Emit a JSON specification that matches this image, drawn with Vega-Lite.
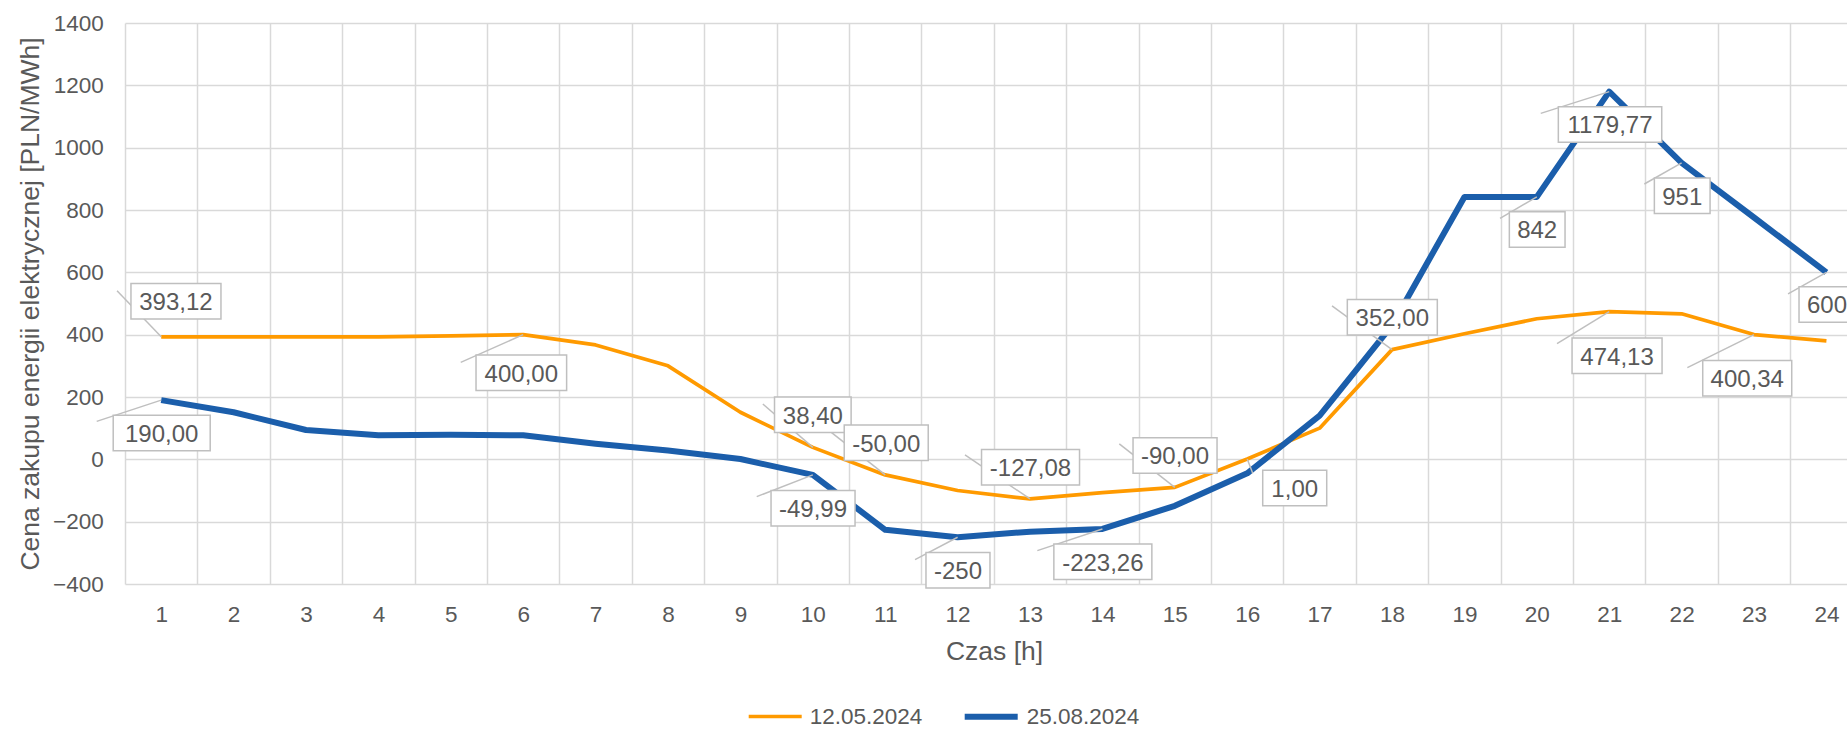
{
  "$schema": "https://vega.github.io/schema/vega-lite/v6.json",
  "width": 1722,
  "height": 561,
  "autosize": {"type": "none"},
  "padding": {"left": 125, "top": 23, "right": 0, "bottom": 145},
  "background": "white",
  "config": {"view": {"stroke": null}, "font": "Liberation Sans"},
  "datasets": {
    "prices": [
      {"hour": 1, "series": "12.05.2024", "price": 393.12},
      {"hour": 2, "series": "12.05.2024", "price": 393},
      {"hour": 3, "series": "12.05.2024", "price": 393},
      {"hour": 4, "series": "12.05.2024", "price": 393},
      {"hour": 5, "series": "12.05.2024", "price": 396},
      {"hour": 6, "series": "12.05.2024", "price": 400},
      {"hour": 7, "series": "12.05.2024", "price": 367},
      {"hour": 8, "series": "12.05.2024", "price": 300},
      {"hour": 9, "series": "12.05.2024", "price": 151},
      {"hour": 10, "series": "12.05.2024", "price": 38.4},
      {"hour": 11, "series": "12.05.2024", "price": -50},
      {"hour": 12, "series": "12.05.2024", "price": -100},
      {"hour": 13, "series": "12.05.2024", "price": -127.08},
      {"hour": 14, "series": "12.05.2024", "price": -107},
      {"hour": 15, "series": "12.05.2024", "price": -90},
      {"hour": 16, "series": "12.05.2024", "price": 1},
      {"hour": 17, "series": "12.05.2024", "price": 100},
      {"hour": 18, "series": "12.05.2024", "price": 352},
      {"hour": 19, "series": "12.05.2024", "price": 403},
      {"hour": 20, "series": "12.05.2024", "price": 451},
      {"hour": 21, "series": "12.05.2024", "price": 474.13},
      {"hour": 22, "series": "12.05.2024", "price": 467},
      {"hour": 23, "series": "12.05.2024", "price": 400.34},
      {"hour": 24, "series": "12.05.2024", "price": 380},
      {"hour": 1, "series": "25.08.2024", "price": 190},
      {"hour": 2, "series": "25.08.2024", "price": 151},
      {"hour": 3, "series": "25.08.2024", "price": 94},
      {"hour": 4, "series": "25.08.2024", "price": 77},
      {"hour": 5, "series": "25.08.2024", "price": 79},
      {"hour": 6, "series": "25.08.2024", "price": 77},
      {"hour": 7, "series": "25.08.2024", "price": 50},
      {"hour": 8, "series": "25.08.2024", "price": 28},
      {"hour": 9, "series": "25.08.2024", "price": 1},
      {"hour": 10, "series": "25.08.2024", "price": -49.99},
      {"hour": 11, "series": "25.08.2024", "price": -226},
      {"hour": 12, "series": "25.08.2024", "price": -250},
      {"hour": 13, "series": "25.08.2024", "price": -232},
      {"hour": 14, "series": "25.08.2024", "price": -223.26},
      {"hour": 15, "series": "25.08.2024", "price": -149},
      {"hour": 16, "series": "25.08.2024", "price": -45},
      {"hour": 17, "series": "25.08.2024", "price": 140},
      {"hour": 18, "series": "25.08.2024", "price": 430},
      {"hour": 19, "series": "25.08.2024", "price": 842},
      {"hour": 20, "series": "25.08.2024", "price": 842},
      {"hour": 21, "series": "25.08.2024", "price": 1179.77},
      {"hour": 22, "series": "25.08.2024", "price": 951},
      {"hour": 23, "series": "25.08.2024", "price": 776},
      {"hour": 24, "series": "25.08.2024", "price": 600}
    ],
    "labels": [
      {"series": "12.05.2024", "hour": 1, "price": 393.12, "label": "393,12", "lx": 1.204, "ly": 507.5, "ex": 0.39, "ey": 540.6},
      {"series": "12.05.2024", "hour": 6, "price": 400, "label": "400,00", "lx": 5.974, "ly": 277.5, "ex": 5.137, "ey": 311.2},
      {"series": "12.05.2024", "hour": 10, "price": 38.4, "label": "38,40", "lx": 10.0, "ly": 142.8, "ex": 9.31, "ey": 177.7},
      {"series": "12.05.2024", "hour": 11, "price": -50, "label": "-50,00", "lx": 11.014, "ly": 52.9, "ex": 10.238, "ey": 89.8},
      {"series": "12.05.2024", "hour": 13, "price": -127.08, "label": "-127,08", "lx": 13.007, "ly": -25.7, "ex": 12.102, "ey": 14.1},
      {"series": "12.05.2024", "hour": 15, "price": -90, "label": "-90,00", "lx": 15.003, "ly": 12.5, "ex": 14.233, "ey": 49.4},
      {"series": "12.05.2024", "hour": 16, "price": 1, "label": "1,00", "lx": 16.656, "ly": -91.8, "ex": 16.076, "ey": -44.9},
      {"series": "12.05.2024", "hour": 18, "price": 352, "label": "352,00", "lx": 18.004, "ly": 455.6, "ex": 17.171, "ey": 492.5},
      {"series": "12.05.2024", "hour": 21, "price": 474.13, "label": "474,13", "lx": 21.108, "ly": 332.1, "ex": 20.279, "ey": 371.2},
      {"series": "12.05.2024", "hour": 23, "price": 400.34, "label": "400,34", "lx": 22.906, "ly": 260.5, "ex": 22.079, "ey": 294.2},
      {"series": "25.08.2024", "hour": 1, "price": 190, "label": "190,00", "lx": 1.007, "ly": 84.1, "ex": 0.109, "ey": 121.9},
      {"series": "25.08.2024", "hour": 10, "price": -49.99, "label": "-49,99", "lx": 10.003, "ly": -156.6, "ex": 9.225, "ey": -119.7},
      {"series": "25.08.2024", "hour": 12, "price": -250, "label": "-250", "lx": 12.005, "ly": -355.5, "ex": 11.412, "ey": -321.8},
      {"series": "25.08.2024", "hour": 14, "price": -223.26, "label": "-223,26", "lx": 14.006, "ly": -328.8, "ex": 13.101, "ey": -292.9},
      {"series": "25.08.2024", "hour": 20, "price": 842, "label": "842", "lx": 20.005, "ly": 737.6, "ex": 19.492, "ey": 773.2},
      {"series": "25.08.2024", "hour": 21, "price": 1179.77, "label": "1179,77", "lx": 21.011, "ly": 1074.4, "ex": 20.054, "ey": 1110},
      {"series": "25.08.2024", "hour": 22, "price": 951, "label": "951", "lx": 22.008, "ly": 846, "ex": 21.485, "ey": 883.5},
      {"series": "25.08.2024", "hour": 24, "price": 600, "label": "600", "lx": 24.008, "ly": 497, "ex": 23.47, "ey": 530.6}
    ]
  },
  "layer": [
    {
      "data": {"name": "prices"},
      "mark": {"type": "line", "strokeJoin": "round", "clip": false},
      "encoding": {
        "x": {
          "field": "hour", "type": "quantitative", "title": "Czas [h]",
          "scale": {"domain": [0.5, 24.284], "nice": false, "zero": false},
          "axis": {
            "values": [0.5, 1.5, 2.5, 3.5, 4.5, 5.5, 6.5, 7.5, 8.5, 9.5, 10.5, 11.5, 12.5, 13.5, 14.5, 15.5, 16.5, 17.5, 18.5, 19.5, 20.5, 21.5, 22.5, 23.5],
            "labelExpr": "format(datum.value + 0.5, 'd')",
            "labelOffset": 36.2,
            "labelFlush": false,
            "labelOverlap": false,
            "grid": true, "gridColor": "#d9d9d9", "gridWidth": 1.5,
            "domain": false, "ticks": false, "tickSize": 0,
            "labelPadding": 37.8, "labelBaseline": "alphabetic",
            "labelFontSize": 22.5, "labelColor": "#595959", "labelFont": "Liberation Sans",
            "title": "Czas [h]", "titleFontSize": 26.5, "titleFontWeight": "normal",
            "titleColor": "#595959", "titleFont": "Liberation Sans",
            "titleX": 869, "titleY": 75.6, "titleBaseline": "alphabetic", "titleAlign": "center"
          }
        },
        "y": {
          "field": "price", "type": "quantitative", "title": "Cena zakupu energii elektrycznej [PLN/MWh]",
          "scale": {"domain": [-400, 1400], "nice": false, "zero": false},
          "axis": {
            "values": [-400, -200, 0, 200, 400, 600, 800, 1000, 1200, 1400],
            "format": "d",
            "grid": true, "gridColor": "#d9d9d9", "gridWidth": 1.5,
            "domain": false, "ticks": false, "tickSize": 0,
            "labelPadding": 21.7, "labelFontSize": 22.5, "labelColor": "#595959", "labelFont": "Liberation Sans",
            "title": "Cena zakupu energii elektrycznej [PLN/MWh]",
            "titleFontSize": 26.5, "titleFontWeight": "normal", "titleColor": "#595959", "titleFont": "Liberation Sans",
            "titleX": -86.7, "titleY": 280.5, "titleBaseline": "alphabetic", "titleAngle": 270, "titleAlign": "center"
          }
        },
        "color": {
          "field": "series", "type": "ordinal",
          "scale": {"domain": ["12.05.2024", "25.08.2024"], "range": ["#FF9A00", "#1B5EAB"]},
          "legend": {
            "orient": "none", "legendX": 621.7, "legendY": 664, "direction": "horizontal",
            "title": null, "symbolType": "stroke", "symbolSize": 2809,
            "labelFontSize": 22.5, "labelColor": "#595959", "labelFont": "Liberation Sans",
            "labelOffset": 6, "columnPadding": 30, "padding": 0
          }
        },
        "strokeWidth": {
          "field": "series", "type": "ordinal",
          "scale": {"domain": ["12.05.2024", "25.08.2024"], "range": [3.7, 6]},
          "legend": {
            "orient": "none", "legendX": 621.7, "legendY": 664, "direction": "horizontal",
            "title": null, "symbolType": "stroke", "symbolSize": 2809,
            "labelFontSize": 22.5, "labelColor": "#595959", "labelFont": "Liberation Sans",
            "labelOffset": 6, "columnPadding": 30, "padding": 0
          }
        }
      }
    },
    {
      "data": {"name": "labels"},
      "mark": {"type": "rule", "color": "#bfbfbf", "strokeWidth": 1.5, "clip": false},
      "encoding": {
        "x": {"field": "hour", "type": "quantitative", "title": "Czas [h]", "scale": {"domain": [0.5, 24.284], "nice": false, "zero": false}},
        "y": {"field": "price", "type": "quantitative", "title": "Cena zakupu energii elektrycznej [PLN/MWh]", "scale": {"domain": [-400, 1400], "nice": false, "zero": false}},
        "x2": {"field": "ex", "title": "Czas [h]"},
        "y2": {"field": "ey", "title": "Cena zakupu energii elektrycznej [PLN/MWh]"}
      }
    },
    {
      "data": {"name": "labels"},
      "mark": {"type": "point", "size": 10000, "filled": true, "fill": "white", "stroke": "#bfbfbf", "strokeWidth": 1.5, "opacity": 1, "clip": false},
      "encoding": {
        "x": {"field": "lx", "type": "quantitative", "title": "Czas [h]", "scale": {"domain": [0.5, 24.284], "nice": false, "zero": false}},
        "y": {"field": "ly", "type": "quantitative", "title": "Cena zakupu energii elektrycznej [PLN/MWh]", "scale": {"domain": [-400, 1400], "nice": false, "zero": false}},
        "shape": {
          "field": "label", "type": "nominal", "legend": null,
          "scale": {
            "domain": ["393,12", "400,00", "38,40", "-50,00", "-127,08", "-90,00", "1,00", "352,00", "474,13", "400,34", "190,00", "-49,99", "-250", "-223,26", "842", "1179,77", "951", "600"],
            "range": [
              "M-0.9,-0.355H0.9V0.355H-0.9Z",
              "M-0.906,-0.355H0.906V0.355H-0.906Z",
              "M-0.766,-0.355H0.766V0.355H-0.766Z",
              "M-0.84,-0.355H0.84V0.355H-0.84Z",
              "M-0.98,-0.355H0.98V0.355H-0.98Z",
              "M-0.84,-0.355H0.84V0.355H-0.84Z",
              "M-0.64,-0.355H0.64V0.355H-0.64Z",
              "M-0.9,-0.355H0.9V0.355H-0.9Z",
              "M-0.9,-0.355H0.9V0.355H-0.9Z",
              "M-0.89,-0.355H0.89V0.355H-0.89Z",
              "M-0.97,-0.355H0.97V0.355H-0.97Z",
              "M-0.84,-0.355H0.84V0.355H-0.84Z",
              "M-0.64,-0.355H0.64V0.355H-0.64Z",
              "M-0.98,-0.355H0.98V0.355H-0.98Z",
              "M-0.557,-0.355H0.557V0.355H-0.557Z",
              "M-1.034,-0.355H1.034V0.355H-1.034Z",
              "M-0.557,-0.355H0.557V0.355H-0.557Z",
              "M-0.56,-0.355H0.56V0.355H-0.56Z"
            ]
          }
        }
      }
    },
    {
      "data": {"name": "labels"},
      "mark": {"type": "text", "fontSize": 24, "color": "#595959", "align": "center", "baseline": "middle", "dy": 2, "font": "Liberation Sans", "clip": false},
      "encoding": {
        "x": {"field": "lx", "type": "quantitative", "title": "Czas [h]", "scale": {"domain": [0.5, 24.284], "nice": false, "zero": false}},
        "y": {"field": "ly", "type": "quantitative", "title": "Cena zakupu energii elektrycznej [PLN/MWh]", "scale": {"domain": [-400, 1400], "nice": false, "zero": false}},
        "text": {"field": "label"}
      }
    }
  ]
}
